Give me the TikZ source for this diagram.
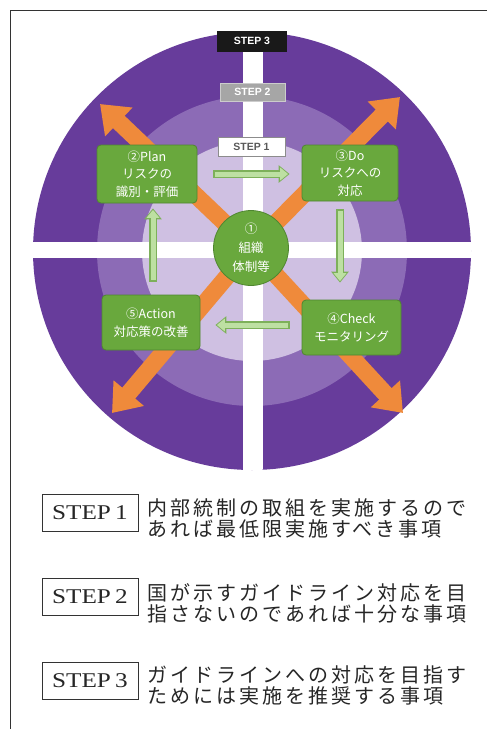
\documentclass[tikz,border=0pt]{standalone}
\usepackage{fontspec}
\setmainfont{Liberation Serif}
\newfontfamily\jp{Noto Sans CJK JP}
\newfontfamily\jpl[LetterSpace=15]{Noto Sans CJK JP}
\newfontfamily\stepsans{Liberation Sans}
\usetikzlibrary{arrows.meta,calc}
\definecolor{purpleA}{HTML}{673C9B}
\definecolor{purpleB}{HTML}{8C6BB6}
\definecolor{purpleC}{HTML}{CFC0E2}
\definecolor{orangec}{HTML}{EF8A3B}
\definecolor{gfill}{HTML}{69A83D}
\definecolor{gborder}{HTML}{4F8630}
\definecolor{lgfill}{HTML}{BDE0A2}
\definecolor{lgborder}{HTML}{7DB05A}
\tikzset{
  gbox/.style={draw=gborder, line width=0.8pt, fill=gfill, rounded corners=4pt, text=white, align=center,
    font=\jp\fontsize{12.5}{17.5}\selectfont, inner sep=0pt},
  oarrow/.style={draw=orangec, line width=17pt, -{Triangle[width=38pt,length=26pt]}},
  larrowout/.style={draw=lgborder, line width=8pt, -{Triangle[width=17pt,length=11pt]}},
  larrowin/.style={draw=lgfill, line width=5pt, -{Triangle[width=12.5pt,length=8pt]}},
  steplab/.style={minimum width=67pt, minimum height=19pt, inner sep=0pt, font=\stepsans\bfseries\fontsize{10.5}{12}\selectfont},
  legbox/.style={draw=black!80, line width=0.7pt, minimum width=96pt, minimum height=37pt, inner sep=0pt,
    font=\fontsize{21}{21}\selectfont, text=black!85},
  legtext/.style={anchor=west, align=left, inner sep=0pt, text=black!85,
    font=\jpl\fontsize{20}{21}\selectfont},
}
\begin{document}
\begin{tikzpicture}[x=1pt,y=-1pt]
\useasboundingbox (0,0) rectangle (487,729);
\fill[white] (0,0) rectangle (487,729);
% page frame
\draw[black!80, line width=0.9pt] (10,729) -- (10,10) -- (487,10);
\coordinate (c) at (252,251);
% rings
\begin{scope}
  \clip (31,0) rectangle (471,729);
  \fill[purpleA] (c) circle[radius=219pt];
\end{scope}
\fill[purpleB] (c) circle[radius=155pt];
\fill[purpleC] (c) circle[radius=110pt];
\begin{scope}
  \clip (31,0) rectangle (471,729);
  \clip (c) circle[radius=219pt];
  \fill[white] (243,20) rectangle (263,480);
  \fill[white] (20,242) rectangle (480,258);
\end{scope}
% orange arrows
\coordinate (oc) at (251,248);
\coordinate (ul) at (100,104);
\coordinate (ur) at (400,97);
\coordinate (ll) at (112,413);
\coordinate (lr) at (403,413);
\draw[oarrow] (oc) -- (ul);
\draw[oarrow] (oc) -- (ur);
\draw[oarrow] (oc) -- (ll);
\draw[oarrow] (oc) -- (lr);
% step labels
\node[steplab, fill=black!90, text=white, minimum width=70pt, minimum height=21pt] (lab3) at (252,41) {STEP 3};
\node[steplab, fill=black!35, draw=black!20, text=white, minimum width=65pt, minimum height=18pt] (lab2) at (252.5,92) {STEP 2};
\node[steplab, fill=white, draw=black!45, text=black!65] (lab1) at (251.5,147) {STEP 1};
% green boxes
\node[gbox, minimum width=100pt, minimum height=58pt] (plan) at (147,174) {②Plan\\リスクの\\識別・評価};
\node[gbox, minimum width=96pt, minimum height=56pt] (do) at (350,173) {③Do\\リスクへの\\対応};
\node[gbox, minimum width=98pt, minimum height=55pt] (action) at (151,322.5) {⑤Action\\対応策の改善};
\node[gbox, minimum width=99pt, minimum height=55pt] (check) at (351.5,327.5) {④Check\\モニタリング};
% light green arrows
\draw[larrowout, shorten <=16pt, shorten >=12pt] (plan.east) -- (plan.east -| do.west);
\draw[larrowin, shorten <=17.5pt, shorten >=13.5pt] (plan.east) -- (plan.east -| do.west);
\draw[larrowout, shorten <=8pt, shorten >=17pt] ([xshift=-10pt]do.south) -- ([xshift=-10pt]do.south |- check.north);
\draw[larrowin, shorten <=9.5pt, shorten >=18.5pt] ([xshift=-10pt]do.south) -- ([xshift=-10pt]do.south |- check.north);
\draw[larrowout, shorten <=12pt, shorten >=15pt] ([yshift=2.5pt]check.west) -- ([yshift=2.5pt]check.west -| action.east);
\draw[larrowin, shorten <=13.5pt, shorten >=16.5pt] ([yshift=2.5pt]check.west) -- ([yshift=2.5pt]check.west -| action.east);
\draw[larrowout, shorten <=13pt, shorten >=5pt] ([xshift=2pt]action.north) -- ([xshift=2pt]action.north |- plan.south);
\draw[larrowin, shorten <=14.5pt, shorten >=6.5pt] ([xshift=2pt]action.north) -- ([xshift=2pt]action.north |- plan.south);
% centre
\node[circle, draw=gborder, line width=0.8pt, fill=gfill, minimum size=75pt, inner sep=0pt, text=white, align=center,
  font=\jp\fontsize{12.5}{19}\selectfont] (org) at (oc) {①\\組織\\体制等};
% legend
\node[legbox] (s1) at (90,513) {\scalebox{1.2}[1]{STEP\,1}};
\node[legtext] (t1) at (147,518) {内部統制の取組を実施するので\\あれば最低限実施すべき事項};
\node[legbox] (s2) at (90,597) {\scalebox{1.2}[1]{STEP\,2}};
\node[legtext] (t2) at (147,603) {国が示すガイドライン対応を目\\指さないのであれば十分な事項};
\node[legbox] (s3) at (90,681) {\scalebox{1.2}[1]{STEP\,3}};
\node[legtext] (t3) at (147,685) {ガイドラインへの対応を目指す\\ためには実施を推奨する事項};
\end{tikzpicture}
\end{document}
